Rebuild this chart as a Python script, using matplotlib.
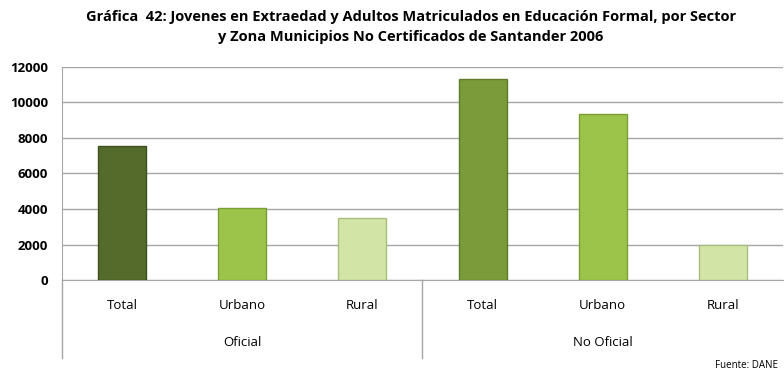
import matplotlib
matplotlib.use("Agg")
import matplotlib.pyplot as plt
import numpy as np
from matplotlib.transforms import blended_transform_factory

plt.rcParams['font.family'] = ['Open Sans', 'DejaVu Sans']

categories = ["Total", "Urbano", "Rural", "Total", "Urbano", "Rural"]
groups = ["Oficial", "No Oficial"]
values = [7550, 4050, 3500, 11300, 9350, 1950]
colors = ["#546B2B", "#9CC44A", "#D2E4A6", "#7B9B3B", "#9CC44A", "#D2E4A6"]
edge_colors = ["#3E5020", "#7A9E35", "#A9BD7E", "#5E7A2C", "#7A9E35", "#A9BD7E"]
yticks = [0, 2000, 4000, 6000, 8000, 10000, 12000]

W, H = 784, 373
fig = plt.figure(figsize=(W / 100, H / 100), dpi=100)
left, right, top, bottom = 62, 783, 67, 280
ax = fig.add_axes([left / W, (H - bottom) / H, (right - left) / W, (bottom - top) / H])

x = np.arange(len(values))
ax.bar(x, values, width=0.4, color=colors, edgecolor=edge_colors, linewidth=1.0, zorder=3)

ax.set_xlim(-0.5, len(values) - 0.5)
ax.set_ylim(0, 12000)
ax.set_yticks(yticks)
ax.set_yticklabels([str(v) for v in yticks], fontsize=9.5, fontweight='bold')
ax.grid(axis='y', color='#A6A6A6', linewidth=1.0, zorder=0)
ax.set_axisbelow(True)
for s in ['top', 'right']:
    ax.spines[s].set_visible(False)
ax.spines['left'].set_color('#A6A6A6')
ax.spines['bottom'].set_color('#A6A6A6')
ax.tick_params(axis='y', length=0, pad=10)
ax.tick_params(axis='x', length=0, pad=14)
ax.set_xticks(x)
ax.set_xticklabels(categories, fontsize=9.5)

trans = blended_transform_factory(ax.transData, ax.transAxes)
table_depth = (358 - bottom) / (bottom - top)
for xpos in [-0.5, 2.5]:
    ax.plot([xpos, xpos], [0, -table_depth], transform=trans, color='#A6A6A6',
            linewidth=1.0, clip_on=False)
group_y = -(342 - bottom) / (bottom - top)
ax.text(1, group_y, groups[0], transform=trans, ha='center', va='center', fontsize=9.5)
ax.text(4, group_y, groups[1], transform=trans, ha='center', va='center', fontsize=9.5)

fig.text(411 / W, 1 - 27 / H,
         "Gráfica  42: Jovenes en Extraedad y Adultos Matriculados en Educación Formal, por Sector\n"
         "y Zona Municipios No Certificados de Santander 2006",
         ha='center', va='center', fontsize=10.5, fontweight='bold', linespacing=1.5)
fig.text(778 / W, 1 - 366 / H, "Fuente: DANE", ha='right', va='center', fontsize=7)

fig.savefig("out.png", dpi=100)
